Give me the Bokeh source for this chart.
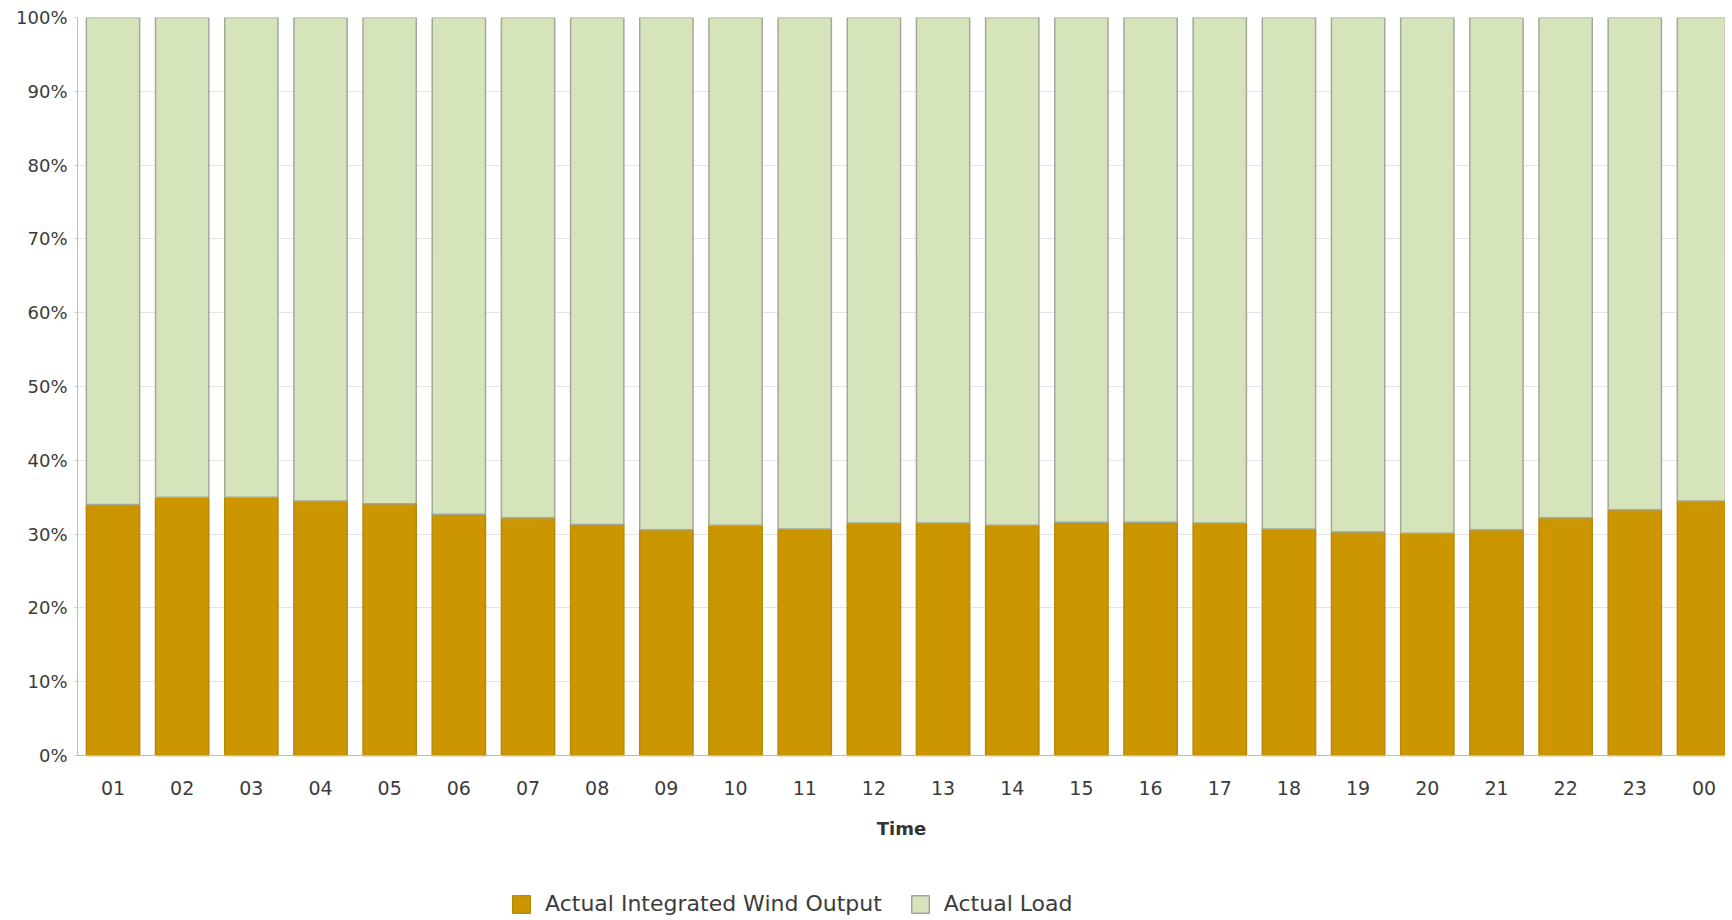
from bokeh.plotting import figure
from bokeh.models import (ColumnDataSource, Range1d, FixedTicker, NumeralTickFormatter,
                          Legend, LegendItem)
from bokeh.embed import file_html
from bokeh.resources import INLINE

# ---- data ----
hours = ["01", "02", "03", "04", "05", "06", "07", "08", "09", "10", "11", "12",
         "13", "14", "15", "16", "17", "18", "19", "20", "21", "22", "23", "00"]
wind_pct = [34.0, 35.0, 35.0, 34.5, 34.1, 32.7, 32.2, 31.3, 30.6, 31.2, 30.7, 31.5,
            31.5, 31.2, 31.6, 31.6, 31.5, 30.7, 30.3, 30.1, 30.6, 32.2, 33.3, 34.5]
load_pct = [100.0 - w for w in wind_pct]
series_names = ["Actual Integrated Wind Output", "Actual Load"]
y_ticks_pct = [0, 10, 20, 30, 40, 50, 60, 70, 80, 90, 100]

# ---- styling ----
WIND = "#cc9600"
LOAD = "#d6e4bb"
FONT = "DejaVu Sans"
TXT = "#3c3c3c"

xpos = list(range(1, len(hours) + 1))
source = ColumnDataSource(dict(
    x=xpos,
    wind=[w / 100.0 for w in wind_pct],
    load=[l / 100.0 for l in load_pct],
))

# frame spans the whole lower area so the axis labels and legend live inside it;
# the value axis runs 0..1 over the upper 738 px
FIG_H = 916
TOP = 17
ZERO_Y = 755
y_start = -(FIG_H - ZERO_Y) / (ZERO_Y - TOP)

p = figure(width=1725, height=FIG_H, output_backend="svg", toolbar_location=None,
           x_range=Range1d(0.487, 24.311), y_range=Range1d(y_start, 1),
           min_border_left=77, min_border_right=0, min_border_top=TOP,
           min_border_bottom=0)
p.outline_line_color = None
p.background_fill_color = "white"

rs = p.vbar_stack(["wind", "load"], x="x", width=0.77, source=source,
                  fill_color=[WIND, LOAD], line_color=["#b8890a", "#a3a89a"],
                  line_width=1.5)

# x axis pinned at y = 0
p.xaxis.fixed_location = 0
p.xaxis.ticker = FixedTicker(ticks=xpos)
p.xaxis.major_label_overrides = {x: h for x, h in zip(xpos, hours)}
p.xaxis.axis_label = "Time"
p.xaxis.axis_label_text_font = FONT
p.xaxis.axis_label_text_font_size = "18px"
p.xaxis.axis_label_text_font_style = "bold"
p.xaxis.axis_label_text_color = "#333333"
p.xaxis.axis_label_standoff = 20
p.xaxis.major_tick_line_color = None
p.xaxis.minor_tick_line_color = None
p.xaxis.axis_line_color = "#b4bccb"
p.xaxis.major_label_standoff = 19
p.xaxis.major_label_text_font_size = "19px"

p.yaxis.bounds = (0, 1)
p.yaxis.ticker = FixedTicker(ticks=[t / 100.0 for t in y_ticks_pct])
p.yaxis.formatter = NumeralTickFormatter(format="0%")
p.yaxis.axis_line_color = "#b4bccb"
p.yaxis.major_tick_line_color = "#c8ccd4"
p.yaxis.major_tick_out = 3
p.yaxis.major_tick_in = 0
p.yaxis.minor_tick_line_color = None
p.yaxis.major_label_standoff = 7
p.yaxis.major_label_text_font_size = "18px"

for ax in (p.xaxis, p.yaxis):
    ax.major_label_text_font = FONT
    ax.major_label_text_color = TXT

p.xgrid.grid_line_color = None
p.ygrid.grid_line_color = "#e4e4e4"
p.ygrid.grid_line_width = 1

legend = Legend(items=[LegendItem(label=series_names[0], renderers=[rs[0]]),
                       LegendItem(label=series_names[1], renderers=[rs[1]])],
                location=(433, 0), orientation="horizontal",
                padding=0, margin=0, spacing=27, label_standoff=13,
                glyph_width=22, glyph_height=22, label_height=22,
                label_text_font=FONT, label_text_font_size="22px",
                label_text_color=TXT, border_line_color=None,
                background_fill_alpha=0)
p.add_layout(legend, "center")

open("out.html", "w").write(file_html(p, INLINE))
